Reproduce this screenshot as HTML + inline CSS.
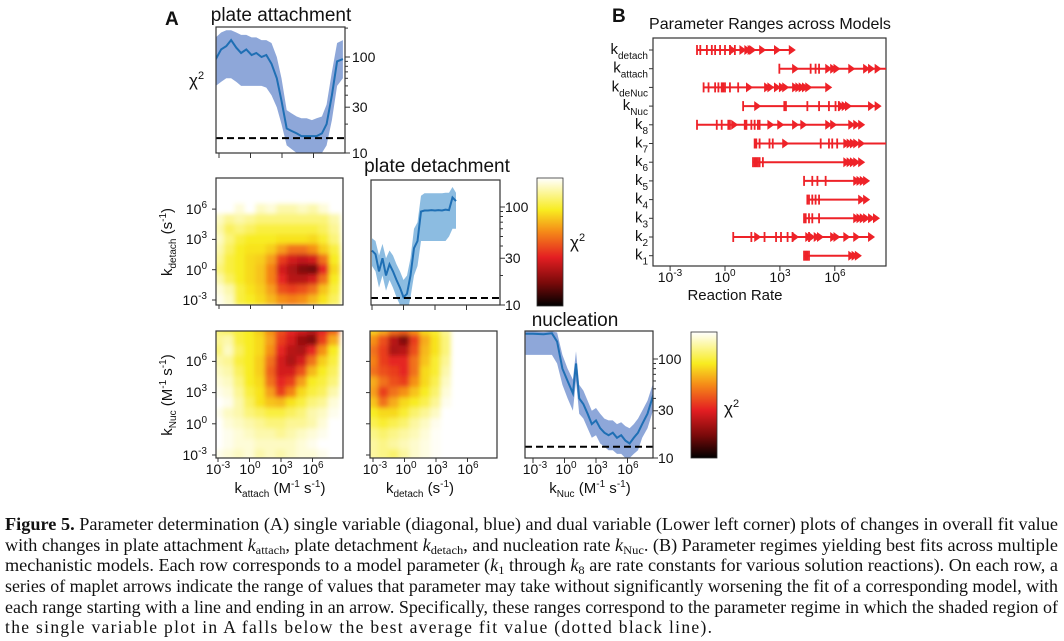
<!DOCTYPE html>
<html><head><meta charset="utf-8"><style>
html,body{margin:0;padding:0;background:#fff;width:1064px;height:641px;overflow:hidden}
svg{position:absolute;left:0;top:0}
text{font-family:"Liberation Sans",Arial,sans-serif;fill:#111}
.cap{font-family:"Liberation Serif","Times New Roman",serif;font-size:17.5px;fill:#111}
</style></head><body>
<svg id="fig" width="1064" height="641" viewBox="0 0 1064 641">
<defs>
<filter id="blur" x="-10%" y="-10%" width="120%" height="120%"><feGaussianBlur stdDeviation="2.5"/></filter>
<clipPath id="c-p1"><rect x="216" y="27" width="129" height="126"/></clipPath>
<clipPath id="c-p2"><rect x="371" y="180" width="129" height="125"/></clipPath>
<clipPath id="c-p3"><rect x="525" y="331" width="128" height="127"/></clipPath>
<clipPath id="c-h1"><rect x="216" y="178" width="127" height="127"/></clipPath>
<clipPath id="c-h2"><rect x="216" y="331" width="127" height="127"/></clipPath>
<clipPath id="c-h3"><rect x="370" y="331" width="127" height="127"/></clipPath>
<linearGradient id="cmap" x1="0" y1="0" x2="0" y2="1">
<stop offset="0" stop-color="#ffffff"/><stop offset="0.25" stop-color="#f8ec20"/><stop offset="0.42" stop-color="#f58a18"/><stop offset="0.62" stop-color="#e41e22"/><stop offset="0.82" stop-color="#7a0a0a"/><stop offset="1" stop-color="#000000"/>
</linearGradient>
</defs>

<text x="165" y="25" font-size="19" font-weight="bold">A</text>
<text x="281" y="21" font-size="19" text-anchor="middle">plate attachment</text>
<text x="189" y="86" font-size="17">χ<tspan dy="-7" font-size="11">2</tspan></text>
<g font-size="14">
<text x="352" y="62">100</text><text x="352" y="112">30</text><text x="352" y="158">10</text></g>

<g font-size="14" text-anchor="end">
<text x="207" y="214">10<tspan dy="-6" font-size="10">6</tspan></text>
<text x="207" y="244">10<tspan dy="-6" font-size="10">3</tspan></text>
<text x="207" y="275">10<tspan dy="-6" font-size="10">0</tspan></text>
<text x="207" y="305">10<tspan dy="-6" font-size="10">-3</tspan></text></g>
<text transform="translate(172,242) rotate(-90)" font-size="15" text-anchor="middle">k<tspan dy="4" font-size="10">detach</tspan><tspan dy="-4"> (s</tspan><tspan dy="-6" font-size="10">-1</tspan><tspan dy="6">)</tspan></text>

<text x="437" y="172" font-size="19" text-anchor="middle">plate detachment</text>
<g font-size="14">
<text x="505" y="212">100</text><text x="505" y="263">30</text><text x="505" y="310">10</text></g>
<rect x="537" y="178" width="26" height="128" fill="url(#cmap)" stroke="#333" stroke-width="0.8"/>
<text x="570" y="248" font-size="17">χ<tspan dy="-7" font-size="11">2</tspan></text>

<text transform="translate(172,395) rotate(-90)" font-size="15" text-anchor="middle">k<tspan dy="4" font-size="10">Nuc</tspan><tspan dy="-4"> (M</tspan><tspan dy="-6" font-size="10">-1</tspan><tspan dy="6"> s</tspan><tspan dy="-6" font-size="10">-1</tspan><tspan dy="6">)</tspan></text>
<g font-size="14" text-anchor="end">
<text x="207" y="366">10<tspan dy="-6" font-size="10">6</tspan></text>
<text x="207" y="397">10<tspan dy="-6" font-size="10">3</tspan></text>
<text x="207" y="429">10<tspan dy="-6" font-size="10">0</tspan></text>
<text x="207" y="460">10<tspan dy="-6" font-size="10">-3</tspan></text></g>
<text x="575" y="326" font-size="19" text-anchor="middle">nucleation</text>
<g font-size="14">
<text x="658" y="364">100</text><text x="658" y="415">30</text><text x="658" y="463">10</text></g>
<rect x="691" y="332" width="26" height="126" fill="url(#cmap)" stroke="#333" stroke-width="0.8"/>
<text x="724" y="414" font-size="17">χ<tspan dy="-7" font-size="11">2</tspan></text>

<g font-size="14" text-anchor="middle">
<text x="218" y="474">10<tspan dy="-6" font-size="10">-3</tspan></text><text x="250" y="474">10<tspan dy="-6" font-size="10">0</tspan></text><text x="282" y="474">10<tspan dy="-6" font-size="10">3</tspan></text><text x="313" y="474">10<tspan dy="-6" font-size="10">6</tspan></text>
<text x="375" y="474">10<tspan dy="-6" font-size="10">-3</tspan></text><text x="406" y="474">10<tspan dy="-6" font-size="10">0</tspan></text><text x="437" y="474">10<tspan dy="-6" font-size="10">3</tspan></text><text x="468" y="474">10<tspan dy="-6" font-size="10">6</tspan></text>
<text x="535" y="474">10<tspan dy="-6" font-size="10">-3</tspan></text><text x="566" y="474">10<tspan dy="-6" font-size="10">0</tspan></text><text x="597" y="474">10<tspan dy="-6" font-size="10">3</tspan></text><text x="628" y="474">10<tspan dy="-6" font-size="10">6</tspan></text></g>
<text x="280" y="493" font-size="15" text-anchor="middle">k<tspan dy="4" font-size="10">attach</tspan><tspan dy="-4"> (M</tspan><tspan dy="-6" font-size="10">-1</tspan><tspan dy="6"> s</tspan><tspan dy="-6" font-size="10">-1</tspan><tspan dy="6">)</tspan></text>
<text x="420" y="493" font-size="15" text-anchor="middle">k<tspan dy="4" font-size="10">detach</tspan><tspan dy="-4"> (s</tspan><tspan dy="-6" font-size="10">-1</tspan><tspan dy="6">)</tspan></text>
<text x="590" y="493" font-size="15" text-anchor="middle">k<tspan dy="4" font-size="10">Nuc</tspan><tspan dy="-4"> (M</tspan><tspan dy="-6" font-size="10">-1</tspan><tspan dy="6"> s</tspan><tspan dy="-6" font-size="10">-1</tspan><tspan dy="6">)</tspan></text>

<text x="612" y="22" font-size="19" font-weight="bold">B</text>
<text x="770" y="29" font-size="16" text-anchor="middle">Parameter Ranges across Models</text>
<g font-size="14" text-anchor="middle">
<text x="670" y="282">10<tspan dy="-6" font-size="10">-3</tspan></text><text x="725" y="282">10<tspan dy="-6" font-size="10">0</tspan></text><text x="780" y="282">10<tspan dy="-6" font-size="10">3</tspan></text><text x="835" y="282">10<tspan dy="-6" font-size="10">6</tspan></text></g>
<text x="735" y="300" font-size="15" text-anchor="middle">Reaction Rate</text>

<g>
<text class="cap" x="5" y="530" textLength="1053" lengthAdjust="spacingAndGlyphs"><tspan font-weight="bold">Figure 5.</tspan> Parameter determination (A) single variable (diagonal, blue) and dual variable (Lower left corner) plots of changes in overall fit value</text>
<text class="cap" x="5" y="551" textLength="1053" lengthAdjust="spacingAndGlyphs">with changes in plate attachment <tspan font-style="italic">k</tspan><tspan font-size="12" dy="3">attach</tspan><tspan dy="-3">, plate detachment </tspan><tspan font-style="italic">k</tspan><tspan font-size="12" dy="3">detach</tspan><tspan dy="-3">, and nucleation rate </tspan><tspan font-style="italic">k</tspan><tspan font-size="12" dy="3">Nuc</tspan><tspan dy="-3">. (B) Parameter regimes yielding best fits across multiple</tspan></text>
<text class="cap" x="5" y="571" textLength="1053" lengthAdjust="spacingAndGlyphs">mechanistic models. Each row corresponds to a model parameter (<tspan font-style="italic">k</tspan><tspan font-size="12" dy="3">1</tspan><tspan dy="-3"> through </tspan><tspan font-style="italic">k</tspan><tspan font-size="12" dy="3">8</tspan><tspan dy="-3"> are rate constants for various solution reactions). On each row, a</tspan></text>
<text class="cap" x="5" y="592" textLength="1053" lengthAdjust="spacingAndGlyphs">series of maplet arrows indicate the range of values that parameter may take without significantly worsening the fit of a corresponding model, with</text>
<text class="cap" x="5" y="613" textLength="1053" lengthAdjust="spacingAndGlyphs">each range starting with a line and ending in an arrow. Specifically, these ranges correspond to the parameter regime in which the shaded region of</text>
<text class="cap" x="5" y="633" textLength="707" lengthAdjust="spacing">the single variable plot in A falls below the best average fit value (dotted black line).</text>
</g>
<g id="marks"></g>
</svg>
<script>
// ---------- data ----------
const p1X = [-3.3,-2.8,-2.3,-1.85,-1.35,-0.9,-0.4,0.1,0.55,1.05,1.5,2,2.5,2.95,3.45,3.9,4.4,4.85,5.35,5.85,6.3,6.8,7.25,7.75,8.25,8.8];
const p1Mean = [95,120,130,150,125,110,120,105,110,100,105,85,60,35,18,17,16,15,15,15,15,16,20,40,90,95];
const p1Lo = [50,55,60,60,55,50,50,50,50,50,48,40,30,20,12,11,10,10,10,10,10,10,12,22,50,60];
const p1Hi = [160,180,190,190,180,170,170,160,160,150,150,140,100,60,28,26,24,23,23,22,23,24,32,70,140,150];
const p1Best = 14.3;

const p2X = [-3,-2.67,-2.33,-2,-1.67,-1.33,-1,-0.67,-0.33,0,0.33,0.67,1,1.33,1.67,2,2.33,2.67,3,3.33,3.67,4,4.33,4.67,5];
const p2Mean = [36,33,22,30,20,26,22,18,15,12,13,20,38,45,90,92,92,93,92,93,92,94,93,125,115];
const p2Lo = [25,22,15,20,14,18,15,12,10,8,8,12,20,25,45,45,45,45,45,45,45,45,50,60,60];
const p2Hi = [48,45,32,42,30,36,32,26,22,18,20,30,60,70,130,138,138,138,138,138,138,140,140,160,140];
const p2Best = 11.8;

const p3X = [-3.7,-3,-2,-1.2,-0.7,-0.2,0.3,0.8,1.1,1.4,1.8,2.2,2.6,3.0,3.4,3.8,4.2,4.6,5.0,5.4,5.8,6.2,6.6,7.0,7.4,7.9,8.5];
const p3Mean = [180,180,178,182,150,80,60,45,90,40,35,28,22,24,20,18,17,18,16,17,15,14,16,18,22,28,45];
const p3Lo = [110,110,110,110,90,55,40,30,60,28,25,20,16,17,14,13,12,12,11,11,10,10,11,12,16,20,32];
const p3Hi = [190,190,188,190,185,110,80,62,120,55,48,38,30,32,28,25,24,24,22,23,21,20,22,25,30,38,60];
const p3Best = 13;

const hmXs = [-3,-2,-1,0,1,2,3,4,5,6,7,8];
const hmYs = [9,8,7,6,5,4,3,2,1,0,-1,-2,-3];
const hm1 = [
[200,200,200,200,200,200,200,200,200,200,200,200],
[200,200,200,200,200,200,200,200,200,200,200,200],
[200,200,200,200,200,200,200,200,200,200,200,200],
[200,200,180,200,170,180,160,160,170,160,180,200],
[170,150,160,150,140,140,140,140,140,140,140,160],
[160,130,140,130,120,120,120,120,120,120,130,150],
[170,140,120,110,110,110,105,105,105,100,115,140],
[160,130,110,105,105,95,75,60,60,70,95,120],
[150,120,110,100,95,75,45,35,32,35,60,110],
[140,120,110,100,90,65,35,28,22,20,40,100],
[160,130,110,100,90,65,40,30,30,35,60,110],
[180,160,120,105,95,75,50,45,50,60,90,120],
[190,170,120,110,100,85,70,65,70,85,105,130]];
const hm2 = [
[140,130,120,110,95,70,50,40,35,30,40,55],
[150,160,120,110,100,75,45,35,25,22,45,80],
[140,170,130,110,100,70,40,30,28,40,70,110],
[160,150,120,110,95,60,35,28,35,60,95,120],
[170,160,130,110,95,55,35,35,50,85,110,130],
[180,170,140,110,100,60,40,45,75,110,120,140],
[190,180,150,120,105,75,45,65,100,120,130,160],
[200,190,160,130,105,90,85,105,120,140,150,180],
[190,170,160,140,130,120,120,130,140,160,170,190],
[200,180,170,160,150,140,140,150,150,160,180,200],
[200,190,180,170,160,160,150,160,170,180,190,200],
[200,190,180,180,170,170,170,170,180,190,200,200],
[190,180,170,180,160,170,160,170,180,180,190,200]];
const hm3 = [
[95,80,60,55,70,100,115,150,null,null,null,null],
[70,50,30,22,45,80,105,140,null,null,null,null],
[60,45,28,30,50,85,105,140,null,null,null,null],
[65,45,40,40,60,90,115,150,null,null,null,null],
[60,50,45,40,60,100,115,160,null,null,null,null],
[80,60,50,45,70,100,125,170,null,null,null,null],
[75,45,60,70,90,110,135,180,null,null,null,null],
[90,60,80,100,110,125,150,190,null,null,null,null],
[110,100,100,115,135,150,170,200,null,null,null,null],
[125,115,125,135,155,170,190,200,null,null,null,null],
[145,135,145,155,165,180,195,200,null,null,null,null],
[155,145,155,165,175,185,195,200,null,null,null,null],
[155,145,135,155,175,185,195,200,null,null,null,null]];

const bRows = ["kdetach","kattach","kdeNuc","kNuc","k8","k7","k6","k5","k4","k3","k2","k1"];
const bSubs = ["detach","attach","deNuc","Nuc","8","7","6","5","4","3","2","1"];
const bTicks = [
[-1.53,-1.35,-0.99,-0.72,-0.54,-0.27,0,0.27,0.54],
[2.97,4.68,4.95,5.14],
[-1.17,-0.9,-0.54,-0.36,-0.18,-0.09,0,0.27,0.72],
[0.99,3.24,3.33,4.5,5.14,5.68,6.04,6.22],
[-1.53,-0.45,-0.18,0.18,0.27,1.08,1.17,1.44,1.62,1.8,1.89],
[1.62,1.71,1.89,2.43,2.61,5.23,5.68,5.86,6.13],
[1.53,1.62,1.71,1.8,1.89,2.07],
[4.32,4.77,5.05,5.5],
[4.5,4.59,4.77,4.95,5.14],
[4.32,4.41,4.59,4.77,5.14],
[0.45,1.44,2.16,2.79,3.06,3.42,3.69,4.59],
[4.32,4.41,4.5,4.59]];
const bArrows = [
[0.63,1.17,1.44,1.62,1.71,2.25,3.06,3.87],
[4.05,5.86,6.13,6.31,7.12,7.93,8.2,8.56],
[1.53,2.52,2.7,3.06,3.33,3.51,4.05,4.23,4.41,4.59,4.77,5.86],
[1.98,6.58,6.76,6.94,8.2,8.56],
[0.72,2.7,3.24,4.05,4.5,5.86,6.13,7.12,7.39,7.66],
[3.51,6.85,7.03,7.21,7.39,7.66],
[6.85,7.03,7.21,7.39,7.66],
[7.39,7.57,7.75,7.93],
[7.66,7.93],
[7.39,7.57,7.75,7.93,8.2,8.47],
[1.98,4.05,4.77,4.95,5.23,5.41,6.13,6.31,6.85,7.39,8.2],
[7.12,7.3,7.48]];
const bLineEnd = [null,8.8,null,null,null,8.8,null,null,null,null,null,null];

// ---------- helpers ----------
const NS = 'http://www.w3.org/2000/svg';
const root = document.getElementById('marks');
function mk(tag, attrs, parent){
  const e = document.createElementNS(NS, tag);
  for (const k in attrs) e.setAttribute(k, attrs[k]);
  (parent || root).appendChild(e);
  return e;
}
const L = Math.log10;
function lin(x0, px0, ppu){ return v => px0 + (v - x0) * ppu; }
function liny(y0, py0, ppu){ return v => py0 - (v - y0) * ppu; }

const stops = [[0,[0,0,0]],[0.25,[122,10,10]],[0.45,[228,30,34]],[0.64,[245,138,24]],[0.8,[248,236,32]],[1,[255,255,255]]];
function cmap(v){
  let t = (L(v) - 1) / (L(200) - 1); t = Math.max(0, Math.min(1, t));
  for (let i = 1; i < stops.length; i++){
    if (t <= stops[i][0]){
      const a = stops[i-1], b = stops[i], f = (t - a[0]) / (b[0] - a[0]);
      const c = a[1].map((x, j) => Math.round(x + (b[1][j] - x) * f));
      return 'rgb(' + c.join(',') + ')';
    }
  }
  return '#fff';
}

// ---------- line plots ----------
function linePlot(name, box, xs, mean, lo, hi, best, xf, yf, bandColor, clip, xticks){
  const g = mk('g', {'clip-path':'url(#' + clip + ')'});
  
  
  let d = '';
  xs.forEach((x, i) => { d += (i ? 'L' : 'M') + xf(x).toFixed(1) + ',' + yf(L(hi[i])).toFixed(1); });
  for (let i = xs.length - 1; i >= 0; i--) d += 'L' + xf(xs[i]).toFixed(1) + ',' + yf(L(lo[i])).toFixed(1);
  const band = mk('path', {d: d + 'Z', fill: bandColor, 'fill-opacity': '0.85'}, g);
  
  
  const line = mk('polyline', {points: xs.map((x, i) => xf(x).toFixed(1) + ',' + yf(L(mean[i])).toFixed(1)).join(' '), fill: 'none', stroke: '#1f6fb4', 'stroke-width': '2'}, g);
  
  
  const by = yf(L(best));
  const dl = mk('line', {x1: box[0], x2: box[0] + box[2], y1: by, y2: by, stroke: '#000', 'stroke-width': '2', 'stroke-dasharray': '7,4'});
  
  
  const fr = mk('rect', {x: box[0], y: box[1], width: box[2], height: box[3], fill: 'none', stroke: '#333', 'stroke-width': '1.2'});
  
  
  const rx = box[0] + box[2];
  [10,20,30,40,50,60,70,80,90,100,200].forEach(v => {
    const y = yf(L(v));
    if (y < box[1] - 0.5 || y > box[1] + box[3] + 0.5) return;
    const major = (v === 10 || v === 30 || v === 100);
    const t = mk('line', {x1: rx, x2: rx + (major ? 5 : 3), y1: y, y2: y, stroke: '#333', 'stroke-width': '1'});
    
    
  });
  xticks.forEach(v => {
    const x = xf(v);
    const t = mk('line', {x1: x, x2: x, y1: box[1] + box[3], y2: box[1] + box[3] + 5, stroke: '#333', 'stroke-width': '1'});
    
    
  });
}
const decTicks = [-3,0,3,6];
linePlot('plate-attachment', [216,27,129,126], p1X, p1Mean, p1Lo, p1Hi, p1Best, lin(-3,219,10.5), liny(1,153,96), '#7a98d2', 'c-p1', decTicks);
linePlot('plate-detachment', [371,180,129,125], p2X, p2Mean, p2Lo, p2Hi, p2Best, lin(-3,372,10.5), liny(1,305,98), '#78b0dc', 'c-p2', decTicks);
linePlot('nucleation', [525,331,128,127], p3X, p3Mean, p3Lo, p3Hi, p3Best, lin(-3,533,10.5), liny(1,458,99), '#7a98d2', 'c-p3', decTicks);

// ---------- heatmaps ----------
function heatmap(name, box, grid, xf, yf, clip){
  const outer = mk('g', {'clip-path':'url(#' + clip + ')'});
  
  
  const g = mk('g', {filter: 'url(#blur)'}, outer);
  const cw = Math.abs(xf(1) - xf(0)), ch = Math.abs(yf(1) - yf(0));
  hmYs.forEach((yv, r) => hmXs.forEach((xv, c) => {
    const v = grid[r][c];
    const cell = mk('rect', {x: (xf(xv) - cw/2 - 0.5).toFixed(1), y: (yf(yv) - ch/2 - 0.5).toFixed(1), width: (cw + 1).toFixed(1), height: (ch + 1).toFixed(1), fill: v === null ? '#ffffff' : cmap(v)}, g);
    
    
  }));
  const fr = mk('rect', {x: box[0], y: box[1], width: box[2], height: box[3], fill: 'none', stroke: '#333', 'stroke-width': '1.2'});
  
  
  decTicks.forEach(v => {
    const y = yf(v);
    const t = mk('line', {x1: box[0] - 4, x2: box[0], y1: y, y2: y, stroke: '#333', 'stroke-width': '1'});
    
    
    const x = xf(v);
    const t2 = mk('line', {x1: x, x2: x, y1: box[1] + box[3], y2: box[1] + box[3] + 4, stroke: '#333', 'stroke-width': '1'});
    
    
  });
}
heatmap('heatmap-kdetach-vs-kattach', [216,178,127,127], hm1, lin(-3,219,10.5), liny(-3,300,10.1), 'c-h1');
heatmap('heatmap-knuc-vs-kattach', [216,331,127,127], hm2, lin(-3,218,10.5), liny(-3,455,10.4), 'c-h2');
heatmap('heatmap-knuc-vs-kdetach', [370,331,127,127], hm3, lin(-3,373,10.5), liny(-3,455,10.4), 'c-h3');

// ---------- panel B ----------
const bx = lin(0, 725, 18.3);
const rowY = i => 50 + i * 18.7;
const bFrame = mk('rect', {x: 653, y: 38, width: 233, height: 228, fill: 'none', stroke: '#333', 'stroke-width': '1.2'});


decTicks.forEach(v => {
  const t = mk('line', {x1: bx(v), x2: bx(v), y1: 266, y2: 271, stroke: '#333', 'stroke-width': '1'});
  
  
});
const bClip = mk('g', {});


bRows.forEach((name, i) => {
  const y = rowY(i);
  const lab = mk('text', {x: 648, y: y + 4, 'font-size': '15', 'text-anchor': 'end'});
  
  
  lab.textContent = 'k';
  const sub = mk('tspan', {dy: '5', 'font-size': '10'}, lab);
  sub.textContent = bSubs[i];
  const lt = mk('line', {x1: 649, x2: 653, y1: y, y2: y, stroke: '#333', 'stroke-width': '1'});
  
  
  const all = bTicks[i].concat(bArrows[i]);
  const start = Math.min(...all);
  const end = bLineEnd[i] !== null ? bLineEnd[i] : Math.max(...all) - 0.2;
  const g = mk('g', {}, bClip);
  
  
  const ln = mk('line', {x1: bx(start), x2: Math.min(bx(end), 886), y1: y, y2: y, stroke: '#ee2228', 'stroke-width': '2'}, g);
  
  
  bTicks[i].forEach(v => {
    const t = mk('line', {x1: bx(v), x2: bx(v), y1: y - 5, y2: y + 5, stroke: '#ee2228', 'stroke-width': '1.8'}, g);
    
    
  });
  bArrows[i].forEach(v => {
    const x = Math.min(bx(v), 886);
    const a = mk('polygon', {points: (x) + ',' + y + ' ' + (x - 7) + ',' + (y - 5) + ' ' + (x - 7) + ',' + (y + 5), fill: '#ee2228'}, g);
    
    
  });
});
</script>
</body></html>
